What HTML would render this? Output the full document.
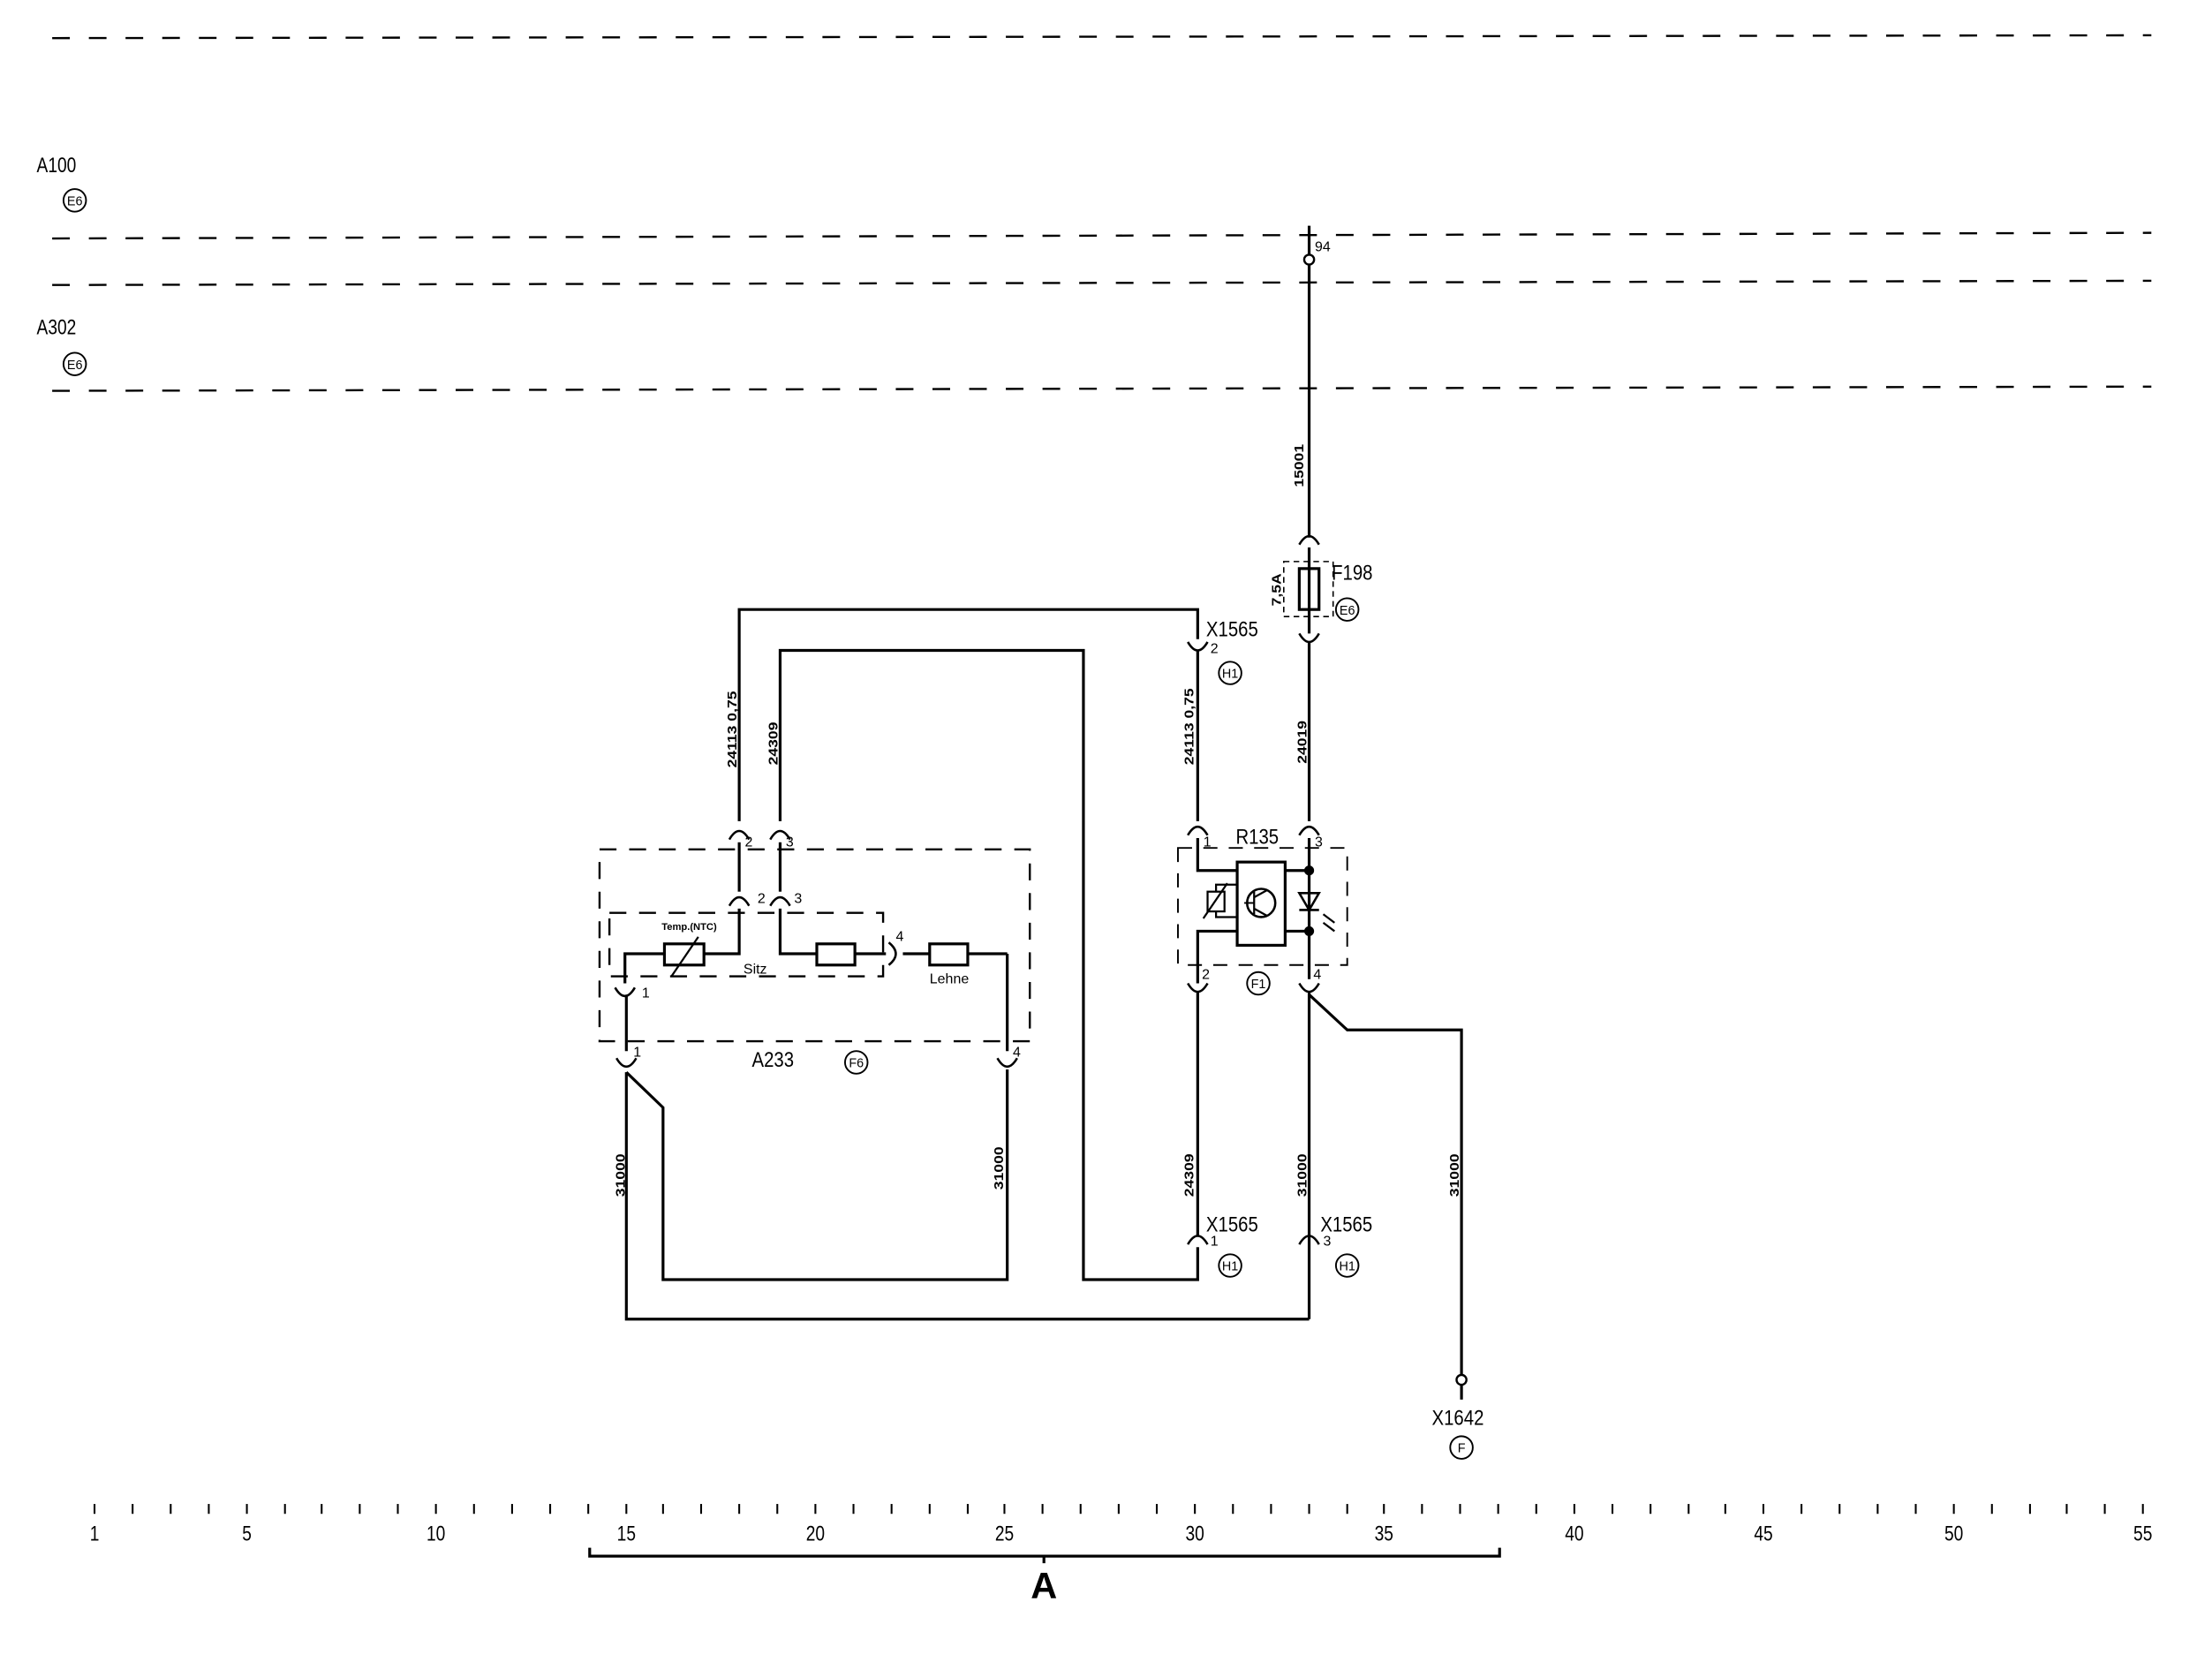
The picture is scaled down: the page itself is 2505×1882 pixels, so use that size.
<!DOCTYPE html>
<html><head><meta charset="utf-8"><style>
html,body{margin:0;padding:0;background:#fff;}
svg{display:block;}
text{font-family:"Liberation Sans",sans-serif;fill:#000;}
</style></head><body>
<svg width="2505" height="1882" viewBox="0 0 1568 1178" xmlns="http://www.w3.org/2000/svg">
<g stroke="#000" fill="none" stroke-width="2">
<g stroke-dasharray="12.5 13.5" stroke-width="1.5">
<line x1="37" y1="27" x2="1525" y2="25"/>
<line x1="37" y1="169" x2="1525" y2="165"/>
<line x1="37" y1="202" x2="1525" y2="199"/>
<line x1="37" y1="277" x2="1525" y2="274"/>
</g>
<line x1="928" y1="160" x2="928" y2="381"/>
<circle cx="928" cy="184" r="3.5" fill="#fff" stroke-width="1.5"/>
<path d="M921,386 Q928,374 935,386" stroke-width="1.6"/>
<line x1="928" y1="388" x2="928" y2="449"/>
<path d="M921,449 Q928,461 935,449" stroke-width="1.6"/>
<rect x="910" y="398" width="35" height="39" stroke-dasharray="4 3" stroke-width="1"/>
<rect x="921" y="403" width="14" height="29"/>
<line x1="928" y1="455" x2="928" y2="582"/>
<path d="M921,592 Q928,580 935,592" stroke-width="1.6"/>
<line x1="928" y1="594" x2="928" y2="694"/>
<path d="M921,697 Q928,709 935,697" stroke-width="1.6"/>
<line x1="928" y1="703" x2="928" y2="935"/>
<path d="M921,882 Q928,870 935,882" stroke-width="1.6"/>
<polyline points="524,582 524,432 849,432 849,453"/>
<path d="M842,455 Q849,467 856,455" stroke-width="1.6"/>
<line x1="849" y1="461" x2="849" y2="582"/>
<path d="M842,592 Q849,580 856,592" stroke-width="1.6"/>
<polyline points="849,594 849,617 877,617"/>
<polyline points="553,582 553,461 768,461 768,907 849,907 849,884"/>
<path d="M842,882 Q849,870 856,882" stroke-width="1.6"/>
<polyline points="849,697 849,660 877,660"/>
<path d="M842,697 Q849,709 856,697" stroke-width="1.6"/>
<line x1="849" y1="703" x2="849" y2="876"/>
<rect x="835" y="601" width="120" height="83" stroke-dasharray="10 8" stroke-width="1.2"/>
<rect x="877" y="611" width="34" height="59"/>
<circle cx="894" cy="640" r="10" stroke-width="1.6"/>
<polyline points="889,632 889,648" stroke-width="1.4"/><line x1="882" y1="640" x2="889" y2="640" stroke-width="1.2"/>
<line x1="889" y1="636" x2="898" y2="631" stroke-width="1.4"/><line x1="889" y1="644" x2="898" y2="649" stroke-width="1.4"/>
<line x1="911" y1="617" x2="928" y2="617"/><line x1="911" y1="660" x2="928" y2="660"/>
<circle cx="928" cy="617" r="2.5" fill="#000"/><circle cx="928" cy="660" r="2.5" fill="#000"/>
<path d="M921,633 L935,633 L928,645 Z" stroke-width="1.6"/><line x1="921" y1="645" x2="935" y2="645" stroke-width="1.6"/>
<line x1="938" y1="648" x2="946" y2="654" stroke-width="1.4"/><line x1="938" y1="654" x2="946" y2="660" stroke-width="1.4"/>
<polyline points="877,627 862,627 862,650 877,650" stroke-width="1.4"/>
<rect x="856" y="632" width="12" height="14" fill="#fff" stroke-width="1.4"/>
<line x1="853" y1="651" x2="870" y2="626" stroke-width="1.4"/>
<polyline points="928,705 955,730 1036,730 1036,975"/>
<circle cx="1036" cy="978" r="3.5" fill="#fff" stroke-width="1.5"/>
<line x1="1036" y1="981" x2="1036" y2="992"/>
<polyline points="928,935 444,935 444,760"/>
<polyline points="444,760 470,785 470,907 714,907 714,758"/>
<path d="M437,750 Q444,762 451,750" stroke-width="1.6"/>
<path d="M707,750 Q714,762 721,750" stroke-width="1.6"/>
<line x1="444" y1="705" x2="444" y2="745"/>
<line x1="714" y1="676" x2="714" y2="745"/>
<rect x="425" y="602" width="305" height="136" stroke-dasharray="12 9" stroke-width="1.5"/>
<rect x="432" y="647" width="194" height="45" stroke-dasharray="12 9" stroke-width="1.5"/>
<path d="M517,595 Q524,583 531,595" stroke-width="1.6"/>
<path d="M546,595 Q553,583 560,595" stroke-width="1.6"/>
<line x1="524" y1="597" x2="524" y2="632"/>
<line x1="553" y1="597" x2="553" y2="632"/>
<path d="M517,642 Q524,630 531,642" stroke-width="1.6"/>
<path d="M546,642 Q553,630 560,642" stroke-width="1.6"/>
<polyline points="524,644 524,676 499,676"/>
<rect x="471" y="669" width="28" height="15"/>
<line x1="476" y1="692" x2="495" y2="664" stroke-width="1.4"/>
<polyline points="471,676 443,676 443,697"/>
<path d="M436,700 Q443,712 450,700" stroke-width="1.6"/>
<polyline points="553,644 553,676 579,676"/>
<rect x="579" y="669" width="27" height="15"/>
<line x1="606" y1="676" x2="628" y2="676"/>
<path d="M630,668 Q640,676 630,684" stroke-width="1.6"/>
<line x1="640" y1="676" x2="659" y2="676"/>
<rect x="659" y="669" width="27" height="15"/>
<line x1="686" y1="676" x2="714" y2="676"/>
<polyline points="418,1097 418,1103 1063,1103 1063,1097"/>
<line x1="740" y1="1103" x2="740" y2="1108"/>
<g stroke-width="1.2">
<circle cx="53" cy="142" r="8"/><circle cx="53" cy="258" r="8"/>
<circle cx="955" cy="432" r="8"/>
<circle cx="872" cy="477" r="8"/>
<circle cx="872" cy="897" r="8"/>
<circle cx="955" cy="897" r="8"/>
<circle cx="892" cy="697" r="8"/>
<circle cx="607" cy="753" r="8"/>
<circle cx="1036" cy="1026" r="8"/>
</g>
</g>
<g stroke="#000" stroke-width="1.3">
<line x1="67" y1="1066" x2="67" y2="1073"/><line x1="94" y1="1066" x2="94" y2="1073"/><line x1="121" y1="1066" x2="121" y2="1073"/><line x1="148" y1="1066" x2="148" y2="1073"/><line x1="175" y1="1066" x2="175" y2="1073"/><line x1="202" y1="1066" x2="202" y2="1073"/><line x1="228" y1="1066" x2="228" y2="1073"/><line x1="255" y1="1066" x2="255" y2="1073"/><line x1="282" y1="1066" x2="282" y2="1073"/><line x1="309" y1="1066" x2="309" y2="1073"/><line x1="336" y1="1066" x2="336" y2="1073"/><line x1="363" y1="1066" x2="363" y2="1073"/><line x1="390" y1="1066" x2="390" y2="1073"/><line x1="417" y1="1066" x2="417" y2="1073"/><line x1="444" y1="1066" x2="444" y2="1073"/><line x1="470" y1="1066" x2="470" y2="1073"/><line x1="497" y1="1066" x2="497" y2="1073"/><line x1="524" y1="1066" x2="524" y2="1073"/><line x1="551" y1="1066" x2="551" y2="1073"/><line x1="578" y1="1066" x2="578" y2="1073"/><line x1="605" y1="1066" x2="605" y2="1073"/><line x1="632" y1="1066" x2="632" y2="1073"/><line x1="659" y1="1066" x2="659" y2="1073"/><line x1="686" y1="1066" x2="686" y2="1073"/><line x1="712" y1="1066" x2="712" y2="1073"/><line x1="739" y1="1066" x2="739" y2="1073"/><line x1="766" y1="1066" x2="766" y2="1073"/><line x1="793" y1="1066" x2="793" y2="1073"/><line x1="820" y1="1066" x2="820" y2="1073"/><line x1="847" y1="1066" x2="847" y2="1073"/><line x1="874" y1="1066" x2="874" y2="1073"/><line x1="901" y1="1066" x2="901" y2="1073"/><line x1="928" y1="1066" x2="928" y2="1073"/><line x1="955" y1="1066" x2="955" y2="1073"/><line x1="981" y1="1066" x2="981" y2="1073"/><line x1="1008" y1="1066" x2="1008" y2="1073"/><line x1="1035" y1="1066" x2="1035" y2="1073"/><line x1="1062" y1="1066" x2="1062" y2="1073"/><line x1="1089" y1="1066" x2="1089" y2="1073"/><line x1="1116" y1="1066" x2="1116" y2="1073"/><line x1="1143" y1="1066" x2="1143" y2="1073"/><line x1="1170" y1="1066" x2="1170" y2="1073"/><line x1="1197" y1="1066" x2="1197" y2="1073"/><line x1="1223" y1="1066" x2="1223" y2="1073"/><line x1="1250" y1="1066" x2="1250" y2="1073"/><line x1="1277" y1="1066" x2="1277" y2="1073"/><line x1="1304" y1="1066" x2="1304" y2="1073"/><line x1="1331" y1="1066" x2="1331" y2="1073"/><line x1="1358" y1="1066" x2="1358" y2="1073"/><line x1="1385" y1="1066" x2="1385" y2="1073"/><line x1="1412" y1="1066" x2="1412" y2="1073"/><line x1="1439" y1="1066" x2="1439" y2="1073"/><line x1="1465" y1="1066" x2="1465" y2="1073"/><line x1="1492" y1="1066" x2="1492" y2="1073"/><line x1="1519" y1="1066" x2="1519" y2="1073"/>
</g>
<g font-size="15" text-anchor="middle">
<text transform="translate(67,1092) scale(0.8,1)">1</text><text transform="translate(175,1092) scale(0.8,1)">5</text><text transform="translate(309,1092) scale(0.8,1)">10</text><text transform="translate(444,1092) scale(0.8,1)">15</text><text transform="translate(578,1092) scale(0.8,1)">20</text><text transform="translate(712,1092) scale(0.8,1)">25</text><text transform="translate(847,1092) scale(0.8,1)">30</text><text transform="translate(981,1092) scale(0.8,1)">35</text><text transform="translate(1116,1092) scale(0.8,1)">40</text><text transform="translate(1250,1092) scale(0.8,1)">45</text><text transform="translate(1385,1092) scale(0.8,1)">50</text><text transform="translate(1519,1092) scale(0.8,1)">55</text>
</g>
<text x="740" y="1133" font-size="26" font-weight="bold" text-anchor="middle">A</text>
<g font-size="15">
<text transform="translate(26,122) scale(0.8,1)">A100</text><text transform="translate(26,237) scale(0.8,1)">A302</text>
<text transform="translate(944,411) scale(0.85,1)">F198</text>
<text transform="translate(855,451) scale(0.85,1)">X1565</text>
<text transform="translate(855,873) scale(0.85,1)">X1565</text>
<text transform="translate(936,873) scale(0.85,1)">X1565</text>
<text transform="translate(1015,1010) scale(0.85,1)">X1642</text>
<text transform="translate(876,598) scale(0.85,1)">R135</text>
<text transform="translate(533,756) scale(0.85,1)">A233</text>
</g>
<g font-size="9" text-anchor="middle">
<text x="53" y="145.5">E6</text><text x="53" y="261.5">E6</text><text x="955" y="435.5">E6</text>
<text x="872" y="480.5">H1</text><text x="872" y="900.5">H1</text><text x="955" y="900.5">H1</text>
<text x="892" y="700.5">F1</text><text x="607" y="756.5">F6</text><text x="1036" y="1029.5">F</text>
</g>
<g font-size="10">
<text x="932" y="178">94</text>
<text x="858" y="463">2</text><text x="858" y="883">1</text><text x="938" y="883">3</text>
<text x="853" y="600">1</text><text x="932" y="600">3</text>
<text x="852" y="694">2</text><text x="931" y="694">4</text>
<text x="528" y="600">2</text><text x="557" y="600">3</text>
<text x="537" y="640">2</text><text x="563" y="640">3</text>
<text x="455" y="707">1</text><text x="449" y="749">1</text><text x="718" y="749">4</text>
<text x="635" y="667">4</text>
<text x="527" y="690">Sitz</text>
<text x="659" y="697">Lehne</text>
</g>
<text x="469" y="659" font-size="7" font-weight="bold">Temp.(NTC)</text>
<g font-size="11" font-weight="bold" text-anchor="middle">
<text transform="translate(924,330) rotate(-90) scale(1,0.85)">15001</text>
<text transform="translate(908,418) rotate(-90) scale(1,0.85)">7,5A</text>
<text transform="translate(522,517) rotate(-90) scale(1,0.85)">24113  0,75</text>
<text transform="translate(551,527) rotate(-90) scale(1,0.85)">24309</text>
<text transform="translate(846,515) rotate(-90) scale(1,0.85)">24113  0,75</text>
<text transform="translate(926,526) rotate(-90) scale(1,0.85)">24019</text>
<text transform="translate(846,833) rotate(-90) scale(1,0.85)">24309</text>
<text transform="translate(926,833) rotate(-90) scale(1,0.85)">31000</text>
<text transform="translate(443,833) rotate(-90) scale(1,0.85)">31000</text>
<text transform="translate(711,828) rotate(-90) scale(1,0.85)">31000</text>
<text transform="translate(1034,833) rotate(-90) scale(1,0.85)">31000</text>
</g>
</svg>
</body></html>
